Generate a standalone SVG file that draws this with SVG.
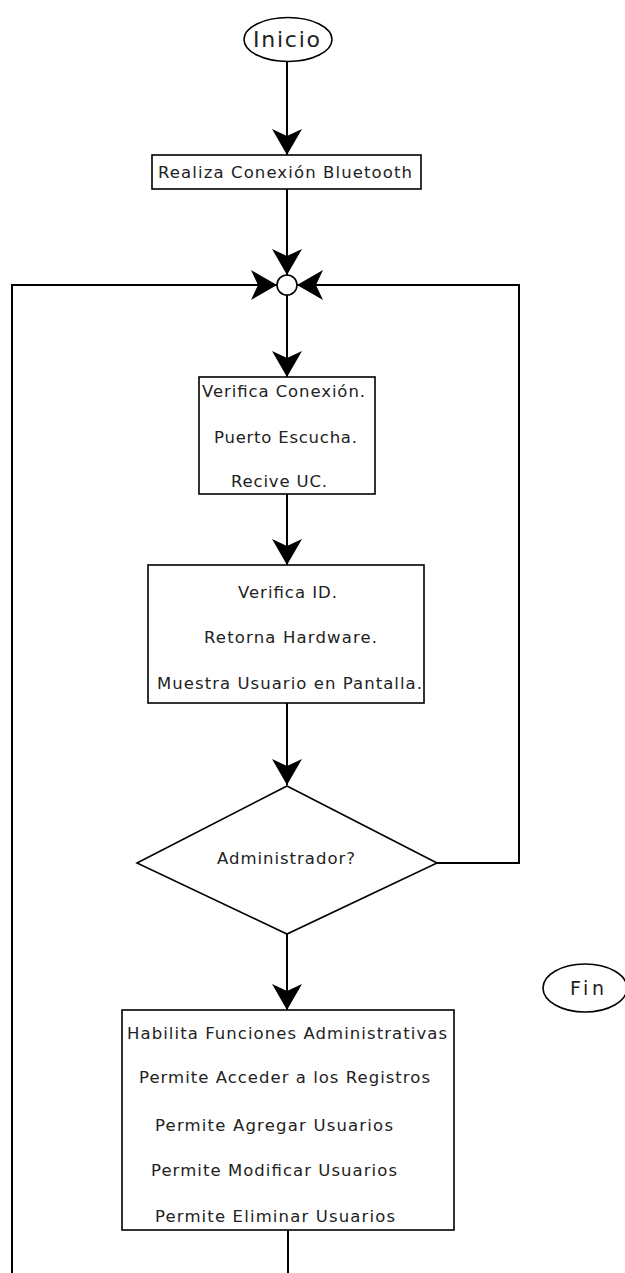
<svg xmlns="http://www.w3.org/2000/svg" width="625" height="1273" viewBox="0 0 625 1273">
  <style>
    .shape { fill: #ffffff; stroke: #000000; stroke-width: 1.6; }
    .line { fill: none; stroke: #000000; stroke-width: 2; }
    .label { font-family: "DejaVu Sans", "Liberation Sans", sans-serif; font-size: 16.5px; fill: #222222; }
  </style>
  <defs>
    <marker id="head" markerUnits="userSpaceOnUse" viewBox="-27 -16 28 32" refX="0" refY="0" markerWidth="28" markerHeight="32" orient="auto">
      <path d="M0,0 L-26,-15 L-19,0 L-26,15 Z" fill="#000000"/>
    </marker>
  </defs>
  <rect width="625" height="1273" fill="#ffffff"/>

  <!-- connectors -->
  <g id="connectors">
    <line class="line" x1="287" y1="62" x2="287" y2="155" marker-end="url(#head)"/>
    <line class="line" x1="287" y1="189" x2="287" y2="275" marker-end="url(#head)"/>
    <polyline class="line" points="12,1273 12,285 277,285" marker-end="url(#head)"/>
    <polyline class="line" points="437,863 519,863 519,285 297,285" marker-end="url(#head)"/>
    <line class="line" x1="287" y1="295" x2="287" y2="377" marker-end="url(#head)"/>
    <line class="line" x1="287" y1="494" x2="287" y2="565" marker-end="url(#head)"/>
    <line class="line" x1="287" y1="703" x2="287" y2="785" marker-end="url(#head)"/>
    <line class="line" x1="287" y1="934" x2="287" y2="1010" marker-end="url(#head)"/>
    <line class="line" x1="288" y1="1230" x2="288" y2="1273"/>
  </g>

  <g id="inicio">
    <ellipse class="shape" cx="288" cy="39.5" rx="44" ry="22"/>
    <text class="label" x="253" y="47" style="font-size:22px" textLength="67" lengthAdjust="spacing">Inicio</text>
  </g>

  <g id="conexion">
    <rect class="shape" x="152" y="155" width="269" height="34"/>
    <text class="label" x="158" y="178" textLength="254" lengthAdjust="spacing">Realiza Conexión Bluetooth</text>
  </g>

  <g id="union">
    <circle class="shape" cx="287" cy="285" r="10"/>
  </g>

  <g id="verifica-conexion">
    <rect class="shape" x="199" y="377" width="176" height="117"/>
    <text class="label" x="202" y="397" textLength="163" lengthAdjust="spacing">Verifica Conexión.</text>
    <text class="label" x="214" y="443" textLength="143" lengthAdjust="spacing">Puerto Escucha.</text>
    <text class="label" x="231" y="487" textLength="96" lengthAdjust="spacing">Recive UC.</text>
  </g>

  <g id="verifica-id">
    <rect class="shape" x="148" y="565" width="276" height="138"/>
    <text class="label" x="238" y="598" textLength="99" lengthAdjust="spacing">Verifica ID.</text>
    <text class="label" x="204" y="643" textLength="173" lengthAdjust="spacing">Retorna Hardware.</text>
    <text class="label" x="157" y="689" textLength="265" lengthAdjust="spacing">Muestra Usuario en Pantalla.</text>
  </g>

  <g id="administrador">
    <polygon class="shape" points="287,786 437,863 287,934 137,863"/>
    <text class="label" x="217" y="864" textLength="138" lengthAdjust="spacing">Administrador?</text>
  </g>

  <g id="fin">
    <ellipse class="shape" cx="585" cy="988" rx="42" ry="24"/>
    <text class="label" x="570" y="995" style="font-size:19px" textLength="34" lengthAdjust="spacing">Fin</text>
  </g>

  <g id="funciones">
    <rect class="shape" x="122" y="1010" width="332" height="220"/>
    <text class="label" x="127" y="1039" textLength="320" lengthAdjust="spacing">Habilita Funciones Administrativas</text>
    <text class="label" x="139" y="1083" textLength="291" lengthAdjust="spacing">Permite Acceder a los Registros</text>
    <text class="label" x="155" y="1131" textLength="238" lengthAdjust="spacing">Permite Agregar Usuarios</text>
    <text class="label" x="151" y="1176" textLength="246" lengthAdjust="spacing">Permite Modificar Usuarios</text>
    <text class="label" x="155" y="1222" textLength="240" lengthAdjust="spacing">Permite Eliminar Usuarios</text>
  </g>
</svg>
